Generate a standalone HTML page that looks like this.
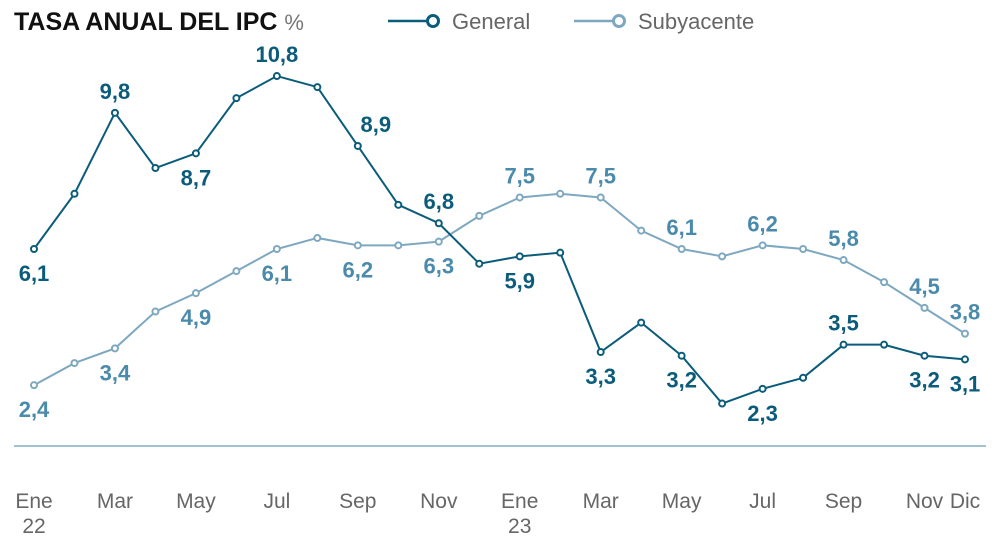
<!DOCTYPE html>
<html><head><meta charset="utf-8"><style>
body{margin:0;background:#fff;width:1008px;height:544px;overflow:hidden;font-family:"Liberation Sans",sans-serif}
</style></head><body>
<svg width="1008" height="544" xmlns="http://www.w3.org/2000/svg" font-family="Liberation Sans, sans-serif">
<text x="14" y="30" font-size="25" font-weight="bold" fill="#111">TASA ANUAL DEL IPC <tspan font-weight="normal" font-size="22" fill="#777">%</tspan></text>
<g>
<line x1="388" y1="21" x2="430" y2="21" stroke="#0b5c7a" stroke-width="2.5"/>
<circle cx="433" cy="21" r="5.5" fill="#fff" stroke="#0b5c7a" stroke-width="3"/>
<text x="452" y="29" font-size="22" fill="#666">General</text></g>
<g>
<line x1="574" y1="21" x2="616" y2="21" stroke="#7ea8c0" stroke-width="2.5"/>
<circle cx="619" cy="21" r="5.5" fill="#fff" stroke="#7ea8c0" stroke-width="3"/>
<text x="638" y="29" font-size="22" fill="#666">Subyacente</text></g>
<line x1="14" y1="446" x2="986" y2="446" stroke="#7eaec6" stroke-width="1.5"/>
<g id="chart"></g>
</svg>
<script>
const months=["Ene\n22","","Mar","","May","","Jul","","Sep","","Nov","","Ene\n23","","Mar","","May","","Jul","","Sep","","Nov","Dic"];
const general=[6.1,7.6,9.8,8.3,8.7,10.2,10.8,10.5,8.9,7.3,6.8,5.7,5.9,6.0,3.3,4.1,3.2,1.9,2.3,2.6,3.5,3.5,3.2,3.1];
const subyacente=[2.4,3.0,3.4,4.4,4.9,5.5,6.1,6.4,6.2,6.2,6.3,7.0,7.5,7.6,7.5,6.6,6.1,5.9,6.2,6.1,5.8,5.2,4.5,3.8];
const genLabels={0:"b",2:"a",4:"b",6:"a",8:"a",10:"a",12:"b",14:"b",16:"b",18:"b",20:"a",22:"b",23:"b"};
const subLabels={0:"b",2:"b",4:"b",6:"b",8:"b",10:"b",12:"a",14:"a",16:"a",18:"a",20:"a",22:"a",23:"a"};
const NS="http://www.w3.org/2000/svg";
const g=document.getElementById('chart');
const x=i=>34+i*(965-34)/23;
const y=v=>249-(v-6.1)*36.8;
function mk(t,a){const e=document.createElementNS(NS,t);for(const k in a)e.setAttribute(k,a[k]);g.appendChild(e);return e;}
months.forEach((m,i)=>{if(!m)return;m.split("\n").forEach((s,j)=>{const t=mk('text',{x:x(i),y:508+j*25,'font-size':21,fill:'#666','text-anchor':'middle'});


t.textContent=s;});});
function series(d,col,lcol,labels,name){
 const p=mk('polyline',{points:d.map((v,i)=>x(i)+','+y(v)).join(' '),fill:'none',stroke:col,'stroke-width':2});
 
 
 d.forEach((v,i)=>{const c=mk('circle',{cx:x(i),cy:y(v),r:3,fill:'#fff',stroke:col,'stroke-width':2});
 
 
 if(labels[i]){const dx=(i==8&&name=='general')?18:(i==23?0:0);
 const t=mk('text',{x:x(i)+dx,y:labels[i]=='a'?y(v)-14:y(v)+32,'font-size':22,'font-weight':'bold',fill:lcol,'text-anchor':'middle'});
 
 
 t.textContent=String(v.toFixed(1)).replace('.',',');}});
}
series(subyacente,'#7ea8c0','#4a8aab',subLabels,'subyacente');
series(general,'#0b5c7a','#0b5c7a',genLabels,'general');
</script>
</body></html>
